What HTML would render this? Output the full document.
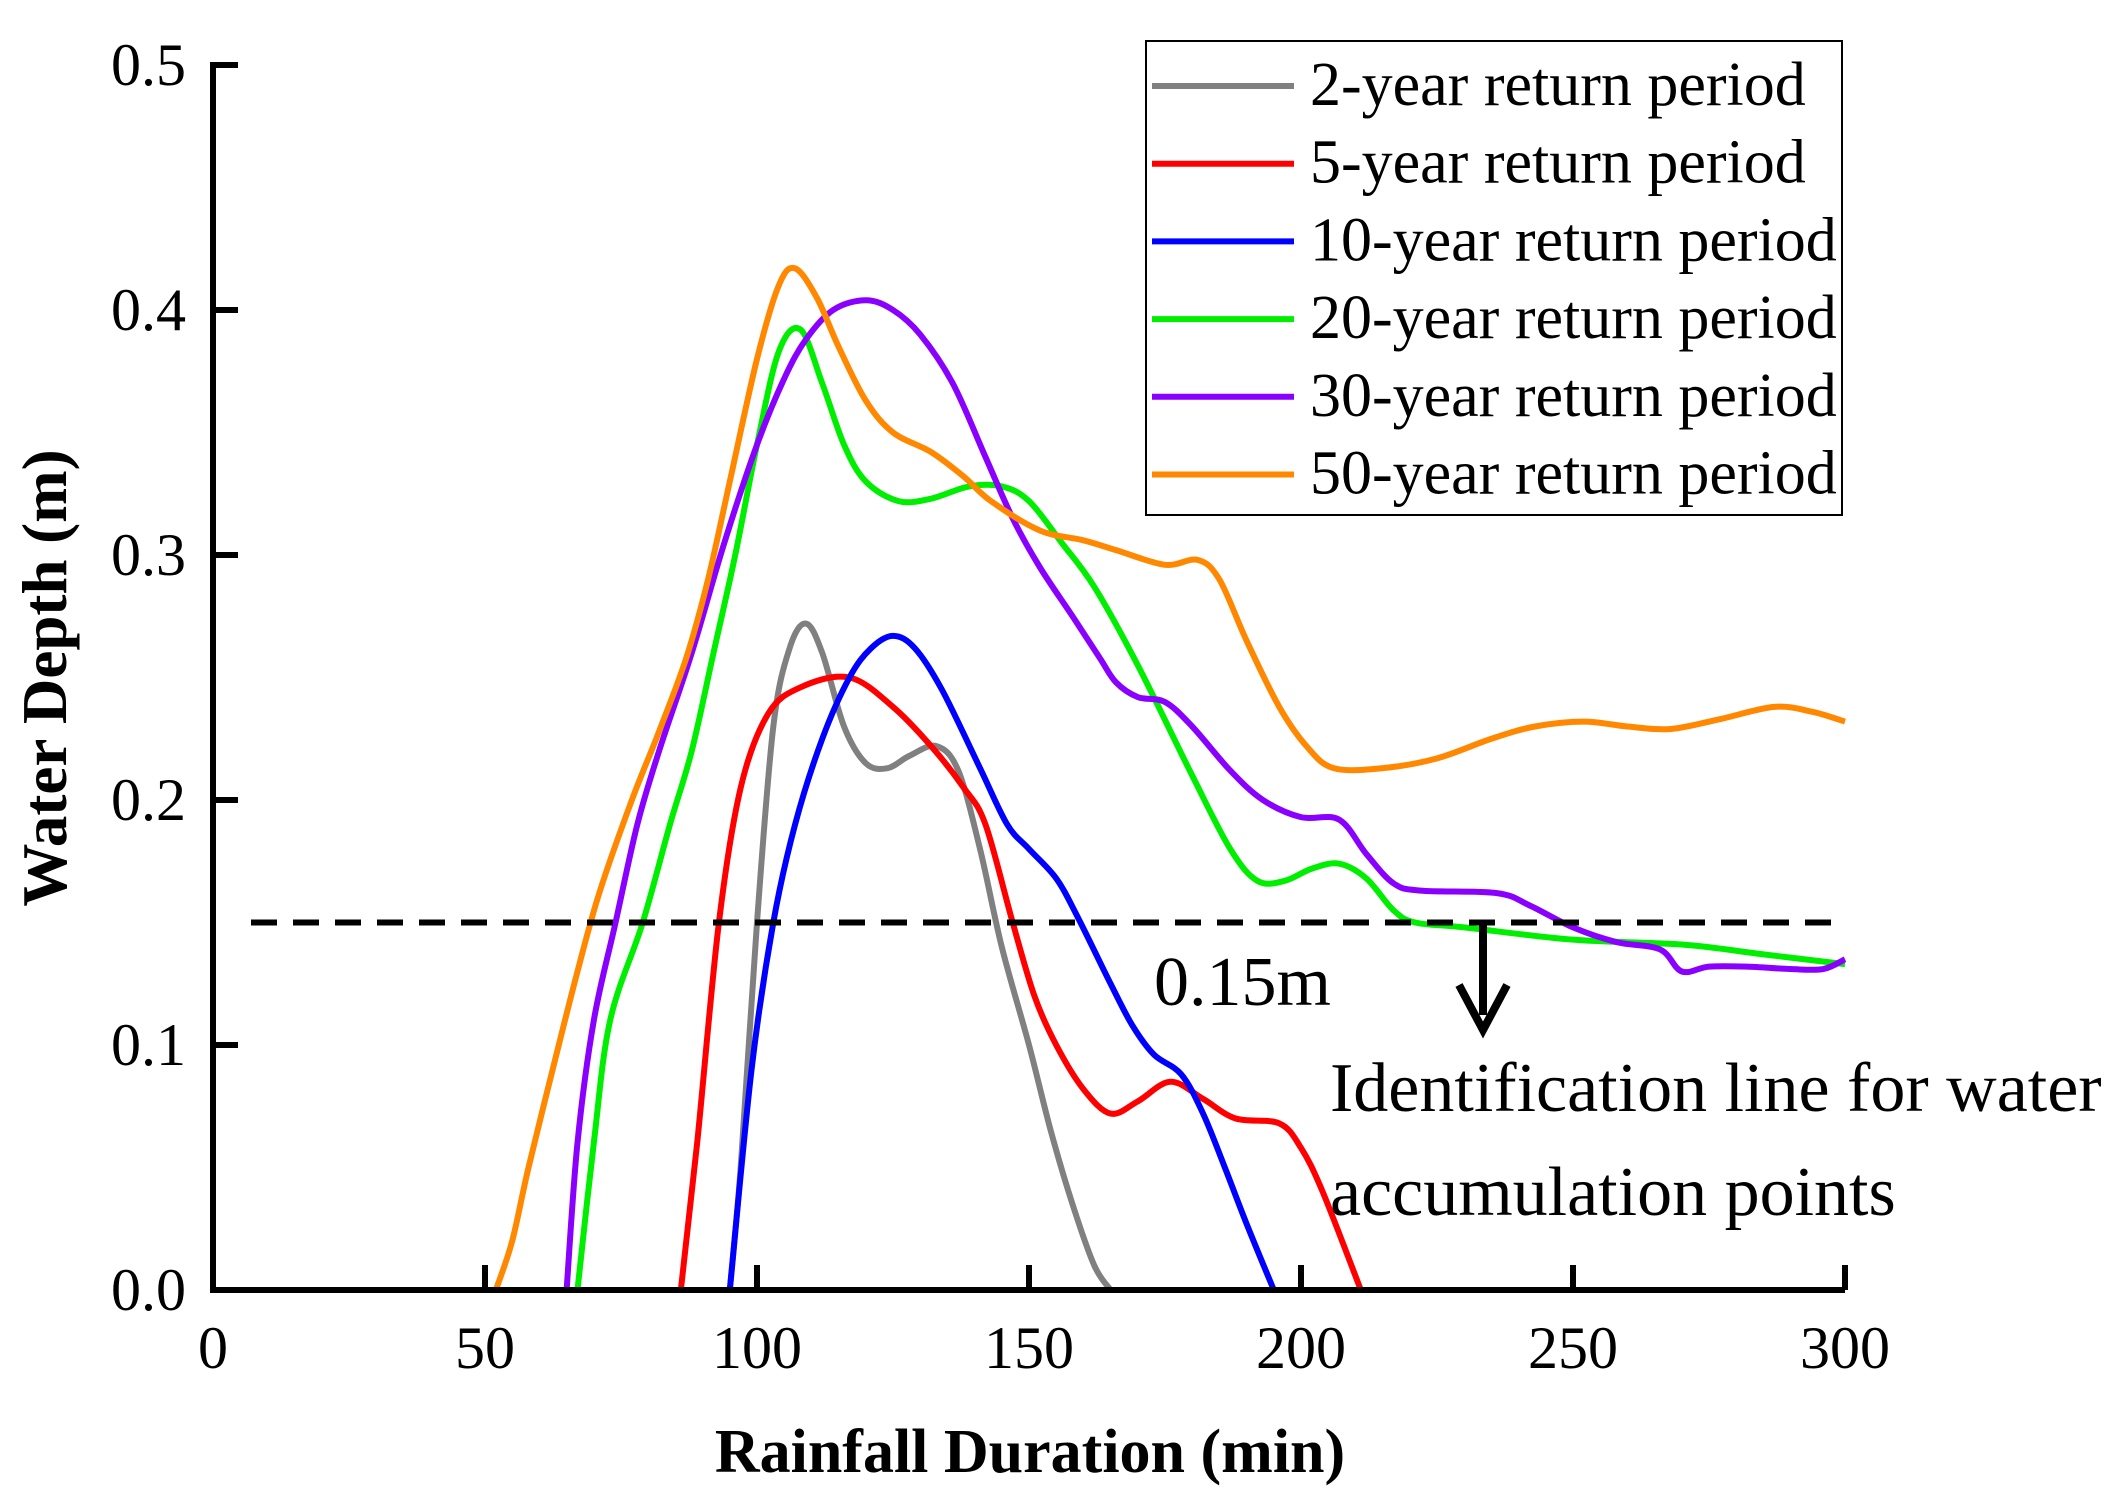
<!DOCTYPE html>
<html><head><meta charset="utf-8"><style>body{margin:0;background:#fff}svg{display:block}text{font-family:"Liberation Serif",serif}</style></head>
<body>
<svg id="c" width="2124" height="1506" viewBox="0 0 2124 1506" xmlns="http://www.w3.org/2000/svg"></svg>
<script>
const xTicks=[0,50,100,150,200,250,300];
const yTicks=[0.0,0.1,0.2,0.3,0.4,0.5];
const yTickLabels=["0.0","0.1","0.2","0.3","0.4","0.5"];
const seriesNames=["2-year return period","5-year return period","10-year return period","20-year return period","30-year return period","50-year return period"];
const seriesColors=["#808080","#ff0000","#0000ff","#00ee00","#8a00ff","#ff8800"];
const s2=[[95,0],[97,0.05],[100,0.15],[103,0.23],[106,0.262],[109,0.272],[112,0.26],[116,0.23],[120,0.215],[124,0.213],[128,0.218],[133,0.222],[137,0.212],[141,0.18],[145,0.14],[150,0.1],[154,0.065],[158,0.035],[162,0.01],[165,0]];
const s5=[[86,0],[89,0.06],[93,0.15],[97,0.205],[102,0.235],[108,0.246],[117,0.25],[125,0.238],[132,0.222],[138,0.205],[142,0.19],[147,0.15],[151,0.12],[155,0.1],[160,0.082],[165,0.072],[170,0.077],[176,0.085],[182,0.078],[188,0.07],[196,0.068],[200,0.058],[204,0.04],[211,0]];
const s10=[[95,0],[99,0.09],[103,0.15],[107,0.19],[112,0.225],[117,0.25],[121,0.262],[125,0.267],[129,0.262],[134,0.245],[141,0.213],[146,0.19],[150,0.18],[155,0.168],[159,0.152],[165,0.125],[169,0.108],[173,0.096],[178,0.088],[182,0.072],[186,0.05],[190,0.027],[195,0]];
const s20=[[67,0],[70,0.06],[73,0.11],[79,0.15],[84,0.19],[88,0.22],[92,0.26],[96,0.3],[100,0.345],[104,0.383],[108,0.392],[112,0.37],[116,0.345],[120,0.33],[126,0.322],[132,0.323],[139,0.328],[145,0.328],[150,0.322],[156,0.305],[162,0.287],[170,0.255],[180,0.21],[187,0.18],[192,0.167],[197,0.167],[202,0.172],[207,0.174],[212,0.168],[217,0.155],[221,0.15],[230,0.148],[250,0.143],[270,0.141],[285,0.137],[300,0.133]];
const s30=[[65,0],[67,0.06],[70,0.11],[74,0.15],[78,0.19],[82,0.22],[88,0.26],[94,0.305],[100,0.345],[105,0.372],[109,0.388],[114,0.4],[120,0.404],[125,0.4],[130,0.39],[136,0.37],[142,0.34],[147,0.315],[152,0.295],[158,0.275],[163,0.258],[166,0.248],[170,0.242],[175,0.24],[180,0.23],[187,0.212],[193,0.2],[200,0.193],[207,0.192],[212,0.178],[217,0.166],[222,0.163],[236,0.162],[242,0.157],[250,0.148],[258,0.142],[266,0.139],[270,0.13],[275,0.132],[282,0.132],[290,0.131],[296,0.131],[300,0.135]];
const s50=[[52,0],[55,0.02],[58,0.05],[63,0.095],[67,0.13],[71,0.162],[77,0.2],[82,0.228],[87,0.258],[91,0.29],[95,0.33],[100,0.38],[104,0.41],[107,0.417],[111,0.405],[115,0.385],[120,0.363],[125,0.35],[132,0.342],[138,0.332],[143,0.322],[152,0.31],[160,0.306],[166,0.302],[175,0.296],[181,0.298],[185,0.29],[190,0.265],[196,0.238],[201,0.222],[206,0.213],[215,0.213],[225,0.217],[235,0.225],[243,0.23],[252,0.232],[260,0.23],[268,0.229],[277,0.233],[287,0.238],[294,0.236],[300,0.232]];
const allSeries=[s2,s5,s10,s20,s30,s50];
const NS="http://www.w3.org/2000/svg",svg=document.getElementById('c');
const X0=213,X1=1845,Y0=1290,Y1=65;
const sx=v=>X0+(v-0)/300*(X1-X0), sy=v=>Y0-(v/0.5)*(Y0-Y1);
function mk(t,a,txt){const e=document.createElementNS(NS,t);for(const k in a)e.setAttribute(k,a[k]);if(txt!==undefined)e.textContent=txt;svg.appendChild(e);return e;}
function path(pts){const p=pts.map(d=>[sx(d[0]),sy(d[1])]);let s="M"+p[0][0]+","+p[0][1];for(let i=0;i<p.length-1;i++){const a=p[i-1]||p[i],b=p[i],c=p[i+1],d=p[i+2]||c;s+=" C"+(b[0]+(c[0]-a[0])/6)+","+(b[1]+(c[1]-a[1])/6)+" "+(c[0]-(d[0]-b[0])/6)+","+(c[1]-(d[1]-b[1])/6)+" "+c[0]+","+c[1];}return s;}
allSeries.forEach((s,i)=>{const e=mk('path',{d:path(s),fill:'none',stroke:seriesColors[i],'stroke-width':6,'stroke-linejoin':'round'});

});
let th=mk('line',{x1:251,x2:X1,y1:sy(0.15),y2:sy(0.15),stroke:'#000','stroke-width':6,'stroke-dasharray':'26,16'});

let ax=mk('path',{d:`M${X0},${Y1-3} V${Y0} H${X1}`,fill:'none',stroke:'#000','stroke-width':6});

xTicks.forEach(v=>{mk('line',{x1:sx(v),x2:sx(v),y1:Y0,y2:Y0-25,stroke:'#000','stroke-width':6});
const t=mk('text',{x:sx(v),y:1368,'text-anchor':'middle','font-size':60},String(v));
});
yTicks.forEach((v,i)=>{mk('line',{x1:X0,x2:X0+25,y1:sy(v),y2:sy(v),stroke:'#000','stroke-width':6});
const t=mk('text',{x:186,y:sy(v)+20,'text-anchor':'end','font-size':60},yTickLabels[i]);
});
let xt=mk('text',{x:1030,y:1472,'text-anchor':'middle','font-size':62,'font-weight':'bold'},'Rainfall Duration (min)');

let yt=mk('text',{x:0,y:0,'text-anchor':'middle','font-size':63,'font-weight':'bold',transform:'translate(66,678) rotate(-90)'},'Water Depth (m)');

mk('line',{x1:1483,x2:1483,y1:sy(0.15),y2:1015,stroke:'#000','stroke-width':8});
let ar=mk('path',{d:'M1459,985 L1483,1030 L1507,985',fill:'none',stroke:'#000','stroke-width':8});

let a1=mk('text',{x:1154,y:1005,'font-size':70},'0.15m');
let a2=mk('text',{x:1330,y:1111,'font-size':70},'Identification line for water');
let a3=mk('text',{x:1330,y:1215,'font-size':70},'accumulation points');
let lb=mk('rect',{x:1146,y:41,width:696,height:474,fill:'#fff',stroke:'#000','stroke-width':2});

seriesNames.forEach((n,i)=>{const y=86+i*77.7;
mk('line',{x1:1152,x2:1294,y1:y,y2:y,stroke:seriesColors[i],'stroke-width':6});
const t=mk('text',{x:1310,y:y+19,'font-size':62},n);
});
</script>
</body></html>
